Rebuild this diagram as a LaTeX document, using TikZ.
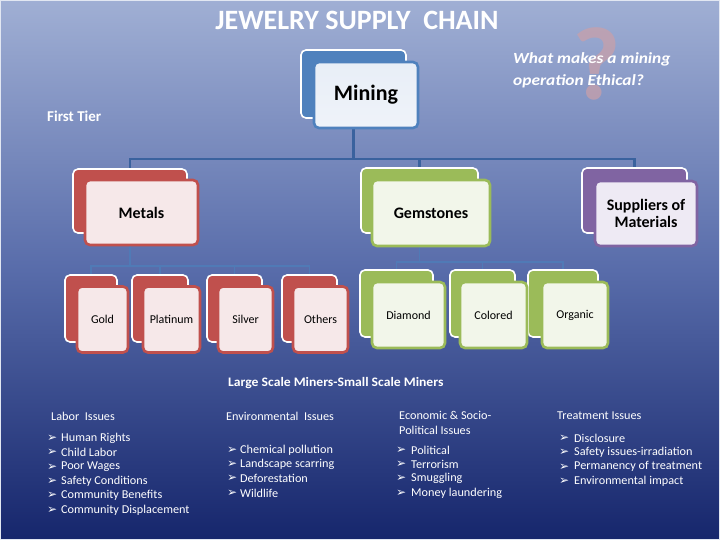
\documentclass[tikz,border=0pt]{standalone}
\usepackage{fontspec}
\setmainfont{Carlito}
\newfontfamily\symfont{DejaVu Sans}
\definecolor{bgtop}{RGB}{160,175,212}
\definecolor{bgmid}{RGB}{88,108,170}
\definecolor{bgbot}{RGB}{22,38,108}
\definecolor{cblue}{RGB}{79,129,189}
\definecolor{cred}{RGB}{192,80,77}
\definecolor{cgreen}{RGB}{155,187,89}
\definecolor{cpurple}{RGB}{128,100,162}
\definecolor{fblue}{RGB}{232,238,247}
\definecolor{fred}{RGB}{246,232,233}
\definecolor{fgreen}{RGB}{242,246,234}
\definecolor{fpurple}{RGB}{238,234,244}
\definecolor{conncol}{RGB}{58,98,158}
\definecolor{conncolb}{RGB}{80,122,182}
\definecolor{qmark}{RGB}{200,160,170}
\pgfdeclarelayer{bglayer}
\pgfdeclarelayer{connlayer}
\pgfsetlayers{bglayer,connlayer,main}
\tikzset{
  backbox/.style={draw=white, line width=1.6pt, rounded corners=5pt, fill=#1, inner sep=0pt},
  frontbox/.style={draw=#1, line width=2.6pt, rounded corners=5pt, inner sep=2pt, align=center, text=black},
  conn/.style={draw=conncol, line width=2.2pt},
  connb/.style={draw=conncolb, line width=1.6pt},
  wtxt/.style={text=white, inner sep=0pt, anchor=west},
  bul/.style={text=white, inner sep=0pt, anchor=west, font=\symfont\fontsize{12}{12}\selectfont},
  itm/.style={text=white, inner sep=0pt, anchor=west, font=\fontsize{12}{13}\selectfont\addfontfeature{FakeStretch=1.02}},
}
\begin{document}
\begin{tikzpicture}[x=1pt,y=-1pt]
\useasboundingbox (0,0) rectangle (720,540);
\begin{pgfonlayer}{bglayer}
\shade[top color=bgtop, bottom color=bgbot, middle color=bgmid] (0,0) rectangle (720,540);
\draw[white!70!bgtop, line width=1pt] (0.5,0.5) rectangle (719.5,539.5);
\end{pgfonlayer}

% title and labels
\node[text=white, font=\bfseries\fontsize{28}{32}\selectfont] (title) at (357,20) {JEWELRY SUPPLY\ \ CHAIN};
\node[text=qmark, opacity=0.75, font=\bfseries\fontsize{104}{104}\selectfont] (qm) at (597,64) {?};
\node[wtxt, font=\bfseries\itshape\fontsize{15.5}{22}\selectfont\addfontfeature{FakeStretch=1.12}, align=left] (quest) at (513,70) {What makes a mining\\operation Ethical?};
\node[wtxt, font=\bfseries\fontsize{15}{18}\selectfont] (tier) at (47,116) {First Tier};

% back boxes
\node[backbox=cblue, minimum width=105pt, minimum height=68pt] (miningB) at (353.5,84) {};
\node[backbox=cred, minimum width=114pt, minimum height=64pt] (metalsB) at (130,201) {};
\node[backbox=cgreen, minimum width=117pt, minimum height=65pt] (gemB) at (419.5,200.5) {};
\node[backbox=cpurple, minimum width=105pt, minimum height=65pt] (suppB) at (634.5,200.5) {};
\node[backbox=cred, minimum width=52pt, minimum height=67pt] (goldB) at (91,308.5) {};
\node[backbox=cred, minimum width=56pt, minimum height=67pt] (platB) at (160,308.5) {};
\node[backbox=cred, minimum width=55pt, minimum height=67pt] (silvB) at (234.5,308.5) {};
\node[backbox=cred, minimum width=55pt, minimum height=67pt] (othB) at (309.5,308.5) {};
\node[backbox=cgreen, minimum width=73pt, minimum height=67pt] (diaB) at (396.5,303.5) {};
\node[backbox=cgreen, minimum width=65pt, minimum height=67pt] (colB) at (482.5,303.5) {};
\node[backbox=cgreen, minimum width=70pt, minimum height=67pt] (orgB) at (563,303.5) {};

% connectors (behind boxes)
\begin{pgfonlayer}{connlayer}
\coordinate (j1) at (353.5,159);
\coordinate (j2) at (130,266);
\coordinate (j3) at (419.5,262);
\draw[conn] (miningB.center) -- (j1);
\draw[conn] (metalsB.north) |- (j1) -| (suppB.north);
\draw[conn] (gemB.north) -- (gemB.north |- j1);
\draw[connb] (metalsB.south) -- (j2);
\draw[connb] (goldB.north) |- (j2) -| (othB.north);
\draw[connb] (platB.north) -- (platB.north |- j2);
\draw[connb] (silvB.north) -- (silvB.north |- j2);
\draw[connb] (gemB.south) -- (j3);
\draw[connb] (diaB.north) |- (j3) -| (orgB.north);
\draw[connb] (colB.north) -- (colB.north |- j3);
\end{pgfonlayer}

% front boxes
\node[frontbox=cblue, top color=fblue, bottom color=fblue!70!white, minimum width=104pt, minimum height=66pt, font=\bfseries\fontsize{22}{24}\selectfont] (mining) at (366,95) {Mining};
\tikzset{tierone/.style={font=\bfseries\fontsize{16}{17.5}\selectfont}}
\node[frontbox=cred, fill=fred, tierone, minimum width=113pt, minimum height=65pt] (metals) at (141.5,212.5) {Metals};
\node[frontbox=cgreen, fill=fgreen, tierone, minimum width=118pt, minimum height=66pt] (gem) at (431,213) {Gemstones};
\node[frontbox=cpurple, fill=fpurple, tierone, minimum width=102pt, minimum height=65pt] (supp) at (646,213.5) {Suppliers of\\Materials};
\tikzset{small/.style={font=\fontsize{12}{13}\selectfont, minimum height=66pt}}
\node[frontbox=cred, fill=fred, small, minimum width=51pt] (gold) at (102.5,319.5) {Gold};
\node[frontbox=cred, fill=fred, small, minimum width=57pt] (plat) at (171.5,319.5) {Platinum};
\node[frontbox=cred, fill=fred, small, minimum width=55pt] (silv) at (245.5,319.5) {Silver};
\node[frontbox=cred, fill=fred, small, minimum width=55pt] (oth) at (320.5,319.5) {Others};
\node[frontbox=cgreen, fill=fgreen, small, minimum width=73pt] (dia) at (408.5,315) {Diamond};
\node[frontbox=cgreen, fill=fgreen, small, minimum width=67pt] (col) at (493.5,315) {Colored};
\node[frontbox=cgreen, fill=fgreen, small, minimum width=66pt] (org) at (575,315) {Organic};

% lower text
\node[wtxt, font=\bfseries\fontsize{13}{15}\selectfont\addfontfeature{FakeStretch=1.05}] (scale) at (228,383) {Large Scale Miners-Small Scale Miners};

\node[itm] (labor) at (51,416) {Labor\ \ Issues};
\foreach \t [count=\i] in {Human Rights, Child Labor, Poor Wages, Safety Conditions, Community Benefits, Community Displacement}{
  \node[bul] (lb\i) at (47,{438+14.4*(\i-1)}) {➢};
  \node[itm] (lt\i) at (61,{438+14.4*(\i-1)}) {\t};
}
\node[itm] (env) at (226,416) {Environmental\ \ Issues};
\foreach \t [count=\i] in {Chemical pollution, Landscape scarring, Deforestation, Wildlife}{
  \node[bul] (eb\i) at (227,{450+14.3*(\i-1)}) {➢};
  \node[itm] (et\i) at (240,{450+14.3*(\i-1)}) {\t};
}
\node[itm, font=\fontsize{12}{14.5}\selectfont\addfontfeature{FakeStretch=1.02}, align=left] (econ) at (399,423) {Economic \& Socio-\\Political Issues};
\foreach \t [count=\i] in {Political, Terrorism, Smuggling, Money laundering}{
  \node[bul] (cb\i) at (396,{450+14.3*(\i-1)}) {➢};
  \node[itm] (ct\i) at (411,{450+14.3*(\i-1)}) {\t};
}
\node[itm] (treat) at (557,416) {Treatment Issues};
\foreach \t [count=\i] in {Disclosure, Safety issues-irradiation, Permanency of treatment, Environmental impact}{
  \node[bul] (tb\i) at (559,{438+14.4*(\i-1)}) {➢};
  \node[itm] (tt\i) at (574,{438+14.4*(\i-1)}) {\t};
}
\end{tikzpicture}
\end{document}
